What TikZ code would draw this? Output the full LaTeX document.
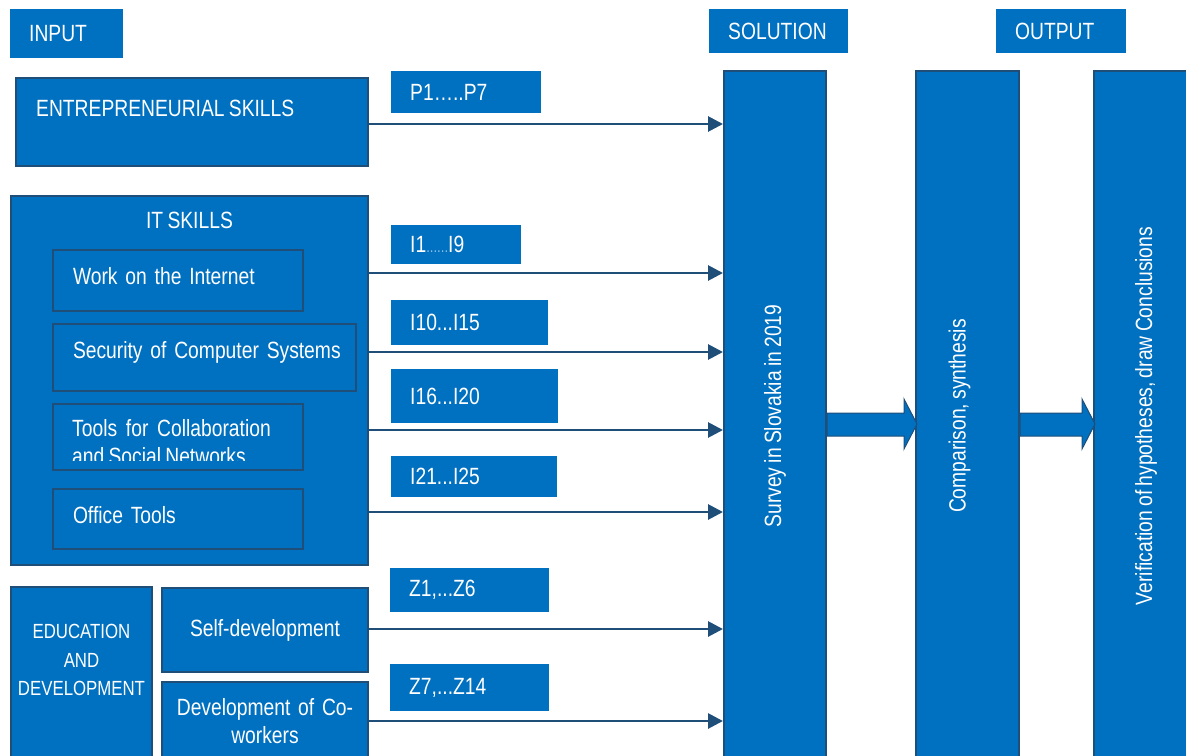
\documentclass[tikz,border=0pt]{standalone}
\usepackage{fontspec}
\setmainfont{Liberation Sans}[FakeStretch=0.82, WordSpace=0.8]
\usetikzlibrary{arrows.meta,calc}
\definecolor{ieblue}{HTML}{0070C0}
\definecolor{iedark}{HTML}{1F4E79}
\tikzset{
  box/.style={draw=iedark, line width=2pt, fill=ieblue, anchor=north west, inner xsep=20pt, inner ysep=0pt, text=white, align=left},
  itembox/.style={box, text width=#1, text height=34pt},
  tag/.style={fill=ieblue, anchor=north west, inner xsep=19pt, inner ysep=0pt, text=white, align=left},
  txt/.style={text=white, inner sep=0pt},
  feed/.style={draw=iedark, line width=2.8pt, -{Triangle[length=15pt,width=15pt]}},
  flow/.style={fill=ieblue, draw=iedark, line width=1pt}
}
\begin{document}
\begin{tikzpicture}[x=1pt, y=-1pt, font=\fontsize{23.5}{28}\selectfont]
\useasboundingbox (0,0) rectangle (1186,755);
\clip (0,0) rectangle (1186,755);

% input blocks
\node[box, minimum width=352, minimum height=88] (ent) at (15,77) {};
\node[txt, anchor=west] (entT) at ([xshift=21,yshift=-31]ent.north west) {ENTREPRENEURIAL SKILLS};

\node[box, minimum width=357, minimum height=369] (it) at (10,195) {};
\node[txt] (itT) at ([yshift=-25]it.north) {IT SKILLS};
\node[itembox=210pt, text depth=27pt] (work) at (52,249) {Work on the Internet};
\node[itembox=263pt, text depth=33pt] (secur) at (52,323) {\mbox{Security of Computer Systems}};
\node[box, minimum width=250, minimum height=66] (tools) at (52,403) {};
\begin{scope}
  \clip ([xshift=1]tools.north west) rectangle ([xshift=-1]tools.east |- 0,460);
  \node[txt, anchor=north west, align=left] (toolsT) at ([xshift=20,yshift=-16]tools.north west)
    {Tools\hspace{4.5pt} for\hspace{4.5pt} Collaboration\\and Social Networks};
\end{scope}
\node[itembox=210pt, text depth=26pt] (office) at (52,488) {Office Tools};

\node[box, minimum width=141, minimum height=180] (edu) at (10,586) {};
\node[txt, align=center, font=\fontsize{20.5}{28.5}\selectfont] (eduT) at ([yshift=-74]edu.north) {EDUCATION\\AND\\DEVELOPMENT};
\node[box, align=center, text width=166, minimum height=84] (self) at (161,587) {Self-development};
\node[box, align=center, inner xsep=3pt, text width=200, minimum height=79] (cowork) at (161,681) {Development of Co-\\workers};

% solution and output columns
\node[box, minimum width=102, minimum height=690] (sol) at (723,70) {};
\node[box, minimum width=103, minimum height=690] (cmp) at (915,70) {};
\node[box, minimum width=102, minimum height=690] (ver) at (1093,70) {};
\node[txt, rotate=90] (solT) at (sol.center) {Survey in Slovakia in 2019};
\node[txt, rotate=90] (cmpT) at ([xshift=-8]cmp.center) {Comparison, synthesis};
\node[txt, rotate=90] (verT) at ([xshift=1]ver.center) {Verification of hypotheses, draw Conclusions};

% headings and item ranges
\foreach \n/\x/\y/\w/\h/\t in {input/10/9/113/49/INPUT, solh/709/9/139/44/SOLUTION, outh/996/9/130/44/OUTPUT,
    p/391/71/150/42/{P1…..P7}, i1/391/225/130/39/{I1{\color{white!55!ieblue}\fontsize{16}{16}\selectfont......}I9},
    i10/391/300/157/45/{I10...I15}, i16/391/369/167/54/{I16...I20}, i21/391/456/166/41/{I21...I25},
    z1/390/568/159/44/{Z1,...Z6}, z7/390/664/159/47/{Z7,...Z14}}{
  \pgfmathsetmacro\tw{\w-38}
  \node[tag, text width=\tw pt, minimum height=\h] (\n) at (\x,\y) {\t};
}

% arrows into the survey
\foreach \s/\y [count=\i] in {ent/124, it/273, it/352, it/430, it/512, self/629, cowork/721}{
  \coordinate (row\i) at (0,\y);
  \draw[feed] (\s.east |- row\i) -- (sol.west |- row\i);
}

% block arrows between columns
\coordinate (htop) at (0,399);
\coordinate (stop) at (0,413);
\coordinate (mid) at (0,424);
\coordinate (sbot) at (0,436);
\coordinate (hbot) at (0,449);
\foreach \s/\t in {sol/cmp, cmp/ver}
  \draw[flow] (\s.east |- stop) -- ($(\t.west |- stop)+(-11,0)$) -- ($(\t.west |- htop)+(-11,0)$)
    -- ($(\t.west |- mid)+(2,0)$) -- ($(\t.west |- hbot)+(-11,0)$) -- ($(\t.west |- sbot)+(-11,0)$)
    -- (\s.east |- sbot) -- cycle;
\end{tikzpicture}
\end{document}
